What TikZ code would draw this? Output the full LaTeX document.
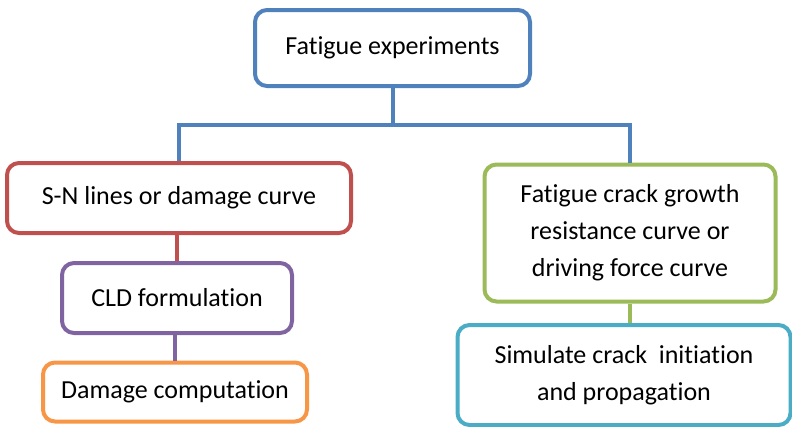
\documentclass[tikz,border=0pt]{standalone}
\usepackage{fontspec}
\setmainfont{Carlito}[Ligatures=NoCommon]
\usetikzlibrary{calc}
\definecolor{boxblue}{HTML}{4F81BD}
\definecolor{boxred}{HTML}{C0504D}
\definecolor{boxpurple}{HTML}{8064A2}
\definecolor{boxorange}{HTML}{F79646}
\definecolor{boxgreen}{HTML}{9BBB59}
\definecolor{boxcyan}{HTML}{4BACC6}
\begin{document}
\begin{tikzpicture}[x=1pt, y=-1pt,
        stage/.style={draw=#1, line width=4pt, rounded corners=12pt, fill=white, align=center,
            font=\fontsize{26}{37}\selectfont, inner sep=0pt},
        link/.style={draw=#1, line width=4pt}]
            \useasboundingbox (0,0) rectangle (792,426);
            \node[stage=boxblue, minimum width=275pt, minimum height=76pt] (exp) at (392.5,48) {Fatigue experiments};
            \node[stage=boxred, minimum width=344pt, minimum height=70pt] (sn) at (179,198) {S-N lines or damage curve};
            \node[stage=boxpurple, minimum width=230pt, minimum height=70pt] (cld) at (177,298) {CLD formulation};
            \node[stage=boxorange, minimum width=264pt, minimum height=59pt] (dmg) at (175,392) {Damage computation};
            \node[stage=boxgreen, minimum width=291pt, minimum height=137pt] (fcg) at (630,233) {Fatigue crack growth\\resistance curve or\\driving force curve};
            \node[stage=boxcyan, minimum width=333pt, minimum height=100pt] (sim) at (624,375) {Simulate crack\ \ initiation\\and propagation};
            \coordinate (fork) at (392.5,125);
            \draw[link=boxblue] (exp.south) -- (fork);
            \draw[link=boxblue] (sn.north) |- (fork) -| (fcg.north);
            \draw[link=boxred] (sn.south -| cld.north) -- (cld.north);
            \draw[link=boxpurple] (cld.south -| dmg.north) -- (dmg.north);
            \draw[link=boxgreen] (fcg.south) -- (fcg.south |- sim.north);
        \end{tikzpicture}
\end{document}
